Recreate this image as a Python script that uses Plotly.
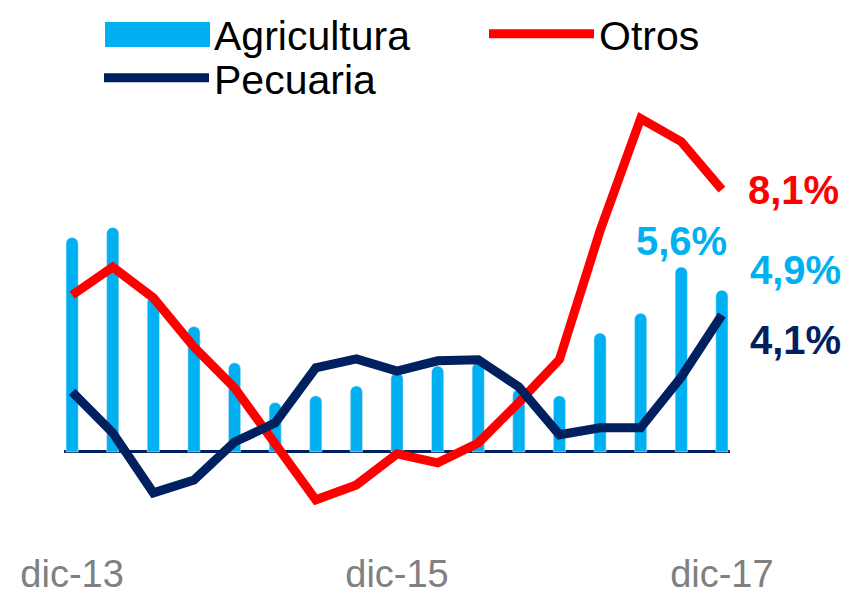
import plotly.graph_objects as go

periods = ["dic-13", "mar-14", "jun-14", "sep-14", "dic-14", "mar-15", "jun-15", "sep-15",
           "dic-15", "mar-16", "jun-16", "sep-16", "dic-16", "mar-17", "jun-17", "sep-17", "dic-17"]
agricultura = [6.5, 6.8, 4.7, 3.8, 2.7, 1.5, 1.7, 2.0, 2.4, 2.6, 2.7, 1.9, 1.7, 3.6, 4.2, 5.6, 4.9]
otros = [4.75, 5.6, 4.67, 3.18, 1.94, 0.2, -1.45, -1.0, -0.06, -0.33, 0.27, 1.5, 2.8, 6.7, 10.1, 9.4, 7.95]
pecuaria = [1.82, 0.58, -1.24, -0.85, 0.3, 0.88, 2.55, 2.82, 2.45, 2.76, 2.79, 1.97, 0.52, 0.73, 0.73, 2.27, 4.15]
tick_labels = ["dic-13", "dic-15", "dic-17"]
tick_idx = [0, 8, 16]

C_AGR = "#00B0F0"
C_OTR = "#FF0000"
C_PEC = "#002060"

x = list(range(len(periods)))

W, H = 851, 599
ML, MR, MT, MB = 64, 121, 110, 54
PW, PH = W - ML - MR, H - MT - MB

fig = go.Figure()
fig.add_trace(go.Bar(x=x, y=agricultura, name="Agricultura", marker_color=C_AGR,
                     width=0.3, showlegend=False))
# legend proxy for Agricultura (symbol drawn as a block shape below)
fig.add_trace(go.Scatter(x=[None], y=[None], mode="lines", name="Agricultura",
                         line=dict(color="rgba(0,0,0,0)", width=10), legend="legend"))
fig.add_trace(go.Scatter(x=x, y=otros, mode="lines", name="Otros",
                         line=dict(color=C_OTR, width=9), legend="legend2"))
fig.add_trace(go.Scatter(x=x, y=pecuaria, mode="lines", name="Pecuaria",
                         line=dict(color=C_PEC, width=9), legend="legend3"))


def px2paper_x(px):
    return (px - ML) / PW


def px2paper_y(py):
    return (H - MB - py) / PH


fig.add_shape(type="rect", xref="paper", yref="paper",
              x0=px2paper_x(105), x1=px2paper_x(210),
              y0=px2paper_y(47), y1=px2paper_y(22),
              fillcolor=C_AGR, line=dict(width=0), layer="above")

last = len(periods) - 1
ann_font = dict(family="Liberation Sans, Arial", size=40)
fig.add_annotation(x=last, y=otros[-1], text="<b>8,1%</b>", showarrow=False,
                   xanchor="left", yanchor="middle", xshift=24,
                   font=dict(ann_font, color=C_OTR))
fig.add_annotation(x=last, y=agricultura[-1], text="<b>4,9%</b>", showarrow=False,
                   xanchor="left", yanchor="middle", xshift=26, yshift=20,
                   font=dict(ann_font, color=C_AGR))
fig.add_annotation(x=last, y=pecuaria[-1], text="<b>4,1%</b>", showarrow=False,
                   xanchor="left", yanchor="middle", xshift=26, yshift=-25,
                   font=dict(ann_font, color=C_PEC))
fig.add_annotation(x=last - 1, y=agricultura[-2], text="<b>5,6%</b>", showarrow=False,
                   xanchor="center", yanchor="bottom", yshift=2,
                   font=dict(ann_font, color=C_AGR))

leg_common = dict(orientation="v", xref="container", yref="container",
                  xanchor="left", yanchor="middle", itemwidth=105,
                  font=dict(size=41, color="black"), bgcolor="rgba(0,0,0,0)",
                  borderwidth=0)

fig.update_layout(
    width=W, height=H,
    margin=dict(l=ML, r=MR, t=MT, b=MB, autoexpand=False),
    paper_bgcolor="white", plot_bgcolor="white",
    font=dict(family="Liberation Sans, Arial", color="black"),
    barcornerradius=6,
    showlegend=True,
    legend=dict(leg_common, x=99 / W, y=1 - 34 / H),
    legend2=dict(leg_common, x=484 / W, y=1 - 34 / H),
    legend3=dict(leg_common, x=99 / W, y=1 - 78 / H),
    xaxis=dict(range=[-0.2, 16.2], tickvals=tick_idx, ticktext=tick_labels,
               showgrid=False, zeroline=False, showline=False, ticks="",
               ticklabelstandoff=3,
               tickfont=dict(size=38, color="#808080")),
    yaxis=dict(range=[-2.82, 10.36], showgrid=False, showticklabels=False,
               zeroline=True, zerolinecolor=C_PEC, zerolinewidth=3, showline=False),
)

fig.write_html("out.html")
